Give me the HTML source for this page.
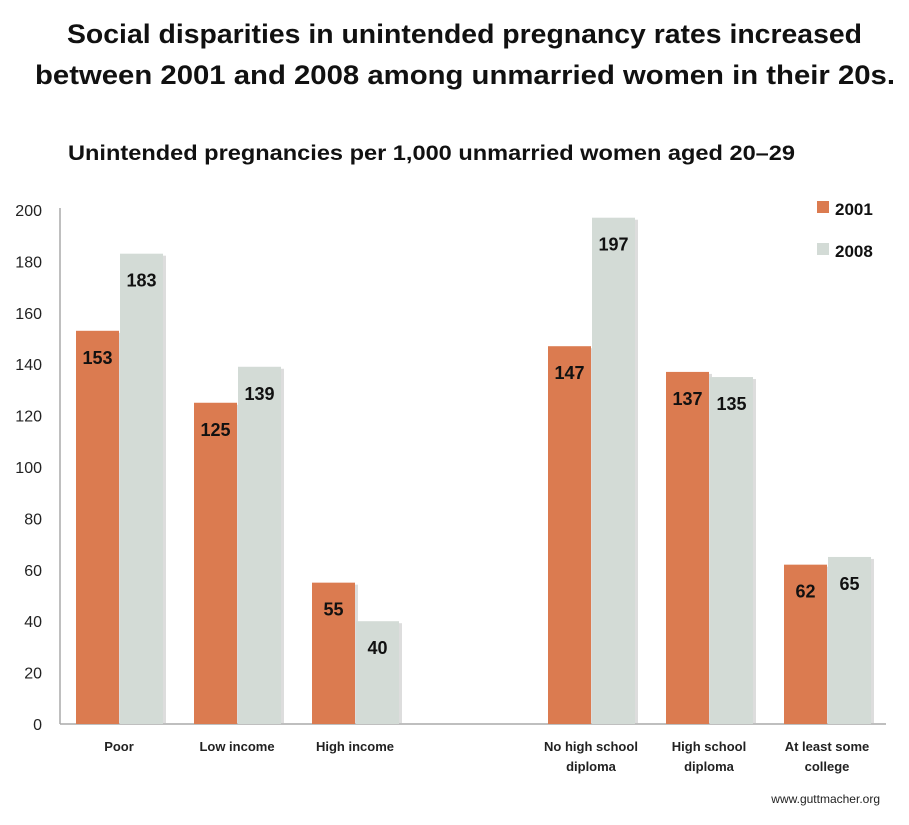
<!DOCTYPE html>
<html><head><meta charset="utf-8"><style>
body{margin:0;background:#fff;font-family:"Liberation Sans",sans-serif}
svg text{font-family:"Liberation Sans",sans-serif}
</style></head><body>
<svg width="909" height="820">
<text x="67" y="43" font-size="27" font-weight="bold" fill="#111" textLength="795" lengthAdjust="spacingAndGlyphs">Social disparities in unintended pregnancy rates increased</text>
<text x="35" y="84" font-size="27" font-weight="bold" fill="#111" textLength="860" lengthAdjust="spacingAndGlyphs">between 2001 and 2008 among unmarried women in their 20s.</text>
<text x="68" y="160" font-size="21" font-weight="bold" fill="#111" textLength="727" lengthAdjust="spacingAndGlyphs">Unintended pregnancies per 1,000 unmarried women aged 20–29</text>
<g id="yaxis"></g>
<g id="bars"></g>
<g id="xlabels"></g>
<rect x="817" y="201" width="12" height="12" fill="#db7b50"/>
<text x="835" y="215" font-size="17" font-weight="bold" fill="#111">2001</text>
<rect x="817" y="243" width="12" height="12" fill="#d3dbd6"/>
<text x="835" y="257" font-size="17" font-weight="bold" fill="#111">2008</text>
<text x="880" y="803" text-anchor="end" font-size="12" fill="#222">www.guttmacher.org</text>
</svg>
<script>
const categories=[["Poor"],["Low income"],["High income"],["No high school","diploma"],["High school","diploma"],["At least some","college"]];
const slots=[0,1,2,4,5,6];
const values2001=[153,125,55,147,137,62];
const values2008=[183,139,40,197,135,65];
const yTicks=[0,20,40,60,80,100,120,140,160,180,200];
const NS="http://www.w3.org/2000/svg";
const x0=60,x1=886,slotW=(x1-x0)/7,yZero=724,yTop=210;
function y(v){return yZero-(v/200)*(yZero-yTop);}
function xc(s){return x0+slotW*(s+0.5);}
function mk(t,a,p){const e=document.createElementNS(NS,t);for(const k in a)e.setAttribute(k,a[k]);p.appendChild(e);return e;}
const ya=document.getElementById('yaxis');
const axl=mk('line',{x1:x0,y1:yTop-2,x2:x0,y2:yZero,stroke:'#aaa','stroke-width':1.5},ya);


const xl=mk('line',{x1:x0,y1:yZero,x2:x1,y2:yZero,stroke:'#aaa','stroke-width':1.5},ya);


yTicks.forEach(t=>{const e=mk('text',{x:42,y:y(t)+6,'text-anchor':'end','font-size':16,fill:'#222'},ya);e.textContent=t;

});
const bg=document.getElementById('bars');
const bw=43;
function bar(v,x,col,nm){
 const sh=mk('rect',{x:x+3,y:y(v)+2,width:bw,height:yZero-y(v)-2,fill:'#bbb',opacity:0.5},bg);
 
 
 const r=mk('rect',{x:x,y:y(v),width:bw,height:yZero-y(v),fill:col},bg);
 
 
 const t=mk('text',{x:x+bw/2,y:y(v)+33,'text-anchor':'middle','font-size':18,'font-weight':'bold',fill:'#111'},bg);t.textContent=v;
 
 
}
const xg=document.getElementById('xlabels');
categories.forEach((c,i)=>{const cx=xc(slots[i]);
 bar(values2001[i],cx-bw,'#db7b50','bar-2001');
 bar(values2008[i],cx+1,'#d3dbd6','bar-2008');
 c.forEach((ln,j)=>{const t=mk('text',{x:cx,y:751+j*20,'text-anchor':'middle','font-size':13,'font-weight':'bold',fill:'#222'},xg);t.textContent=ln;
 
 });
});
</script>
</body></html>
